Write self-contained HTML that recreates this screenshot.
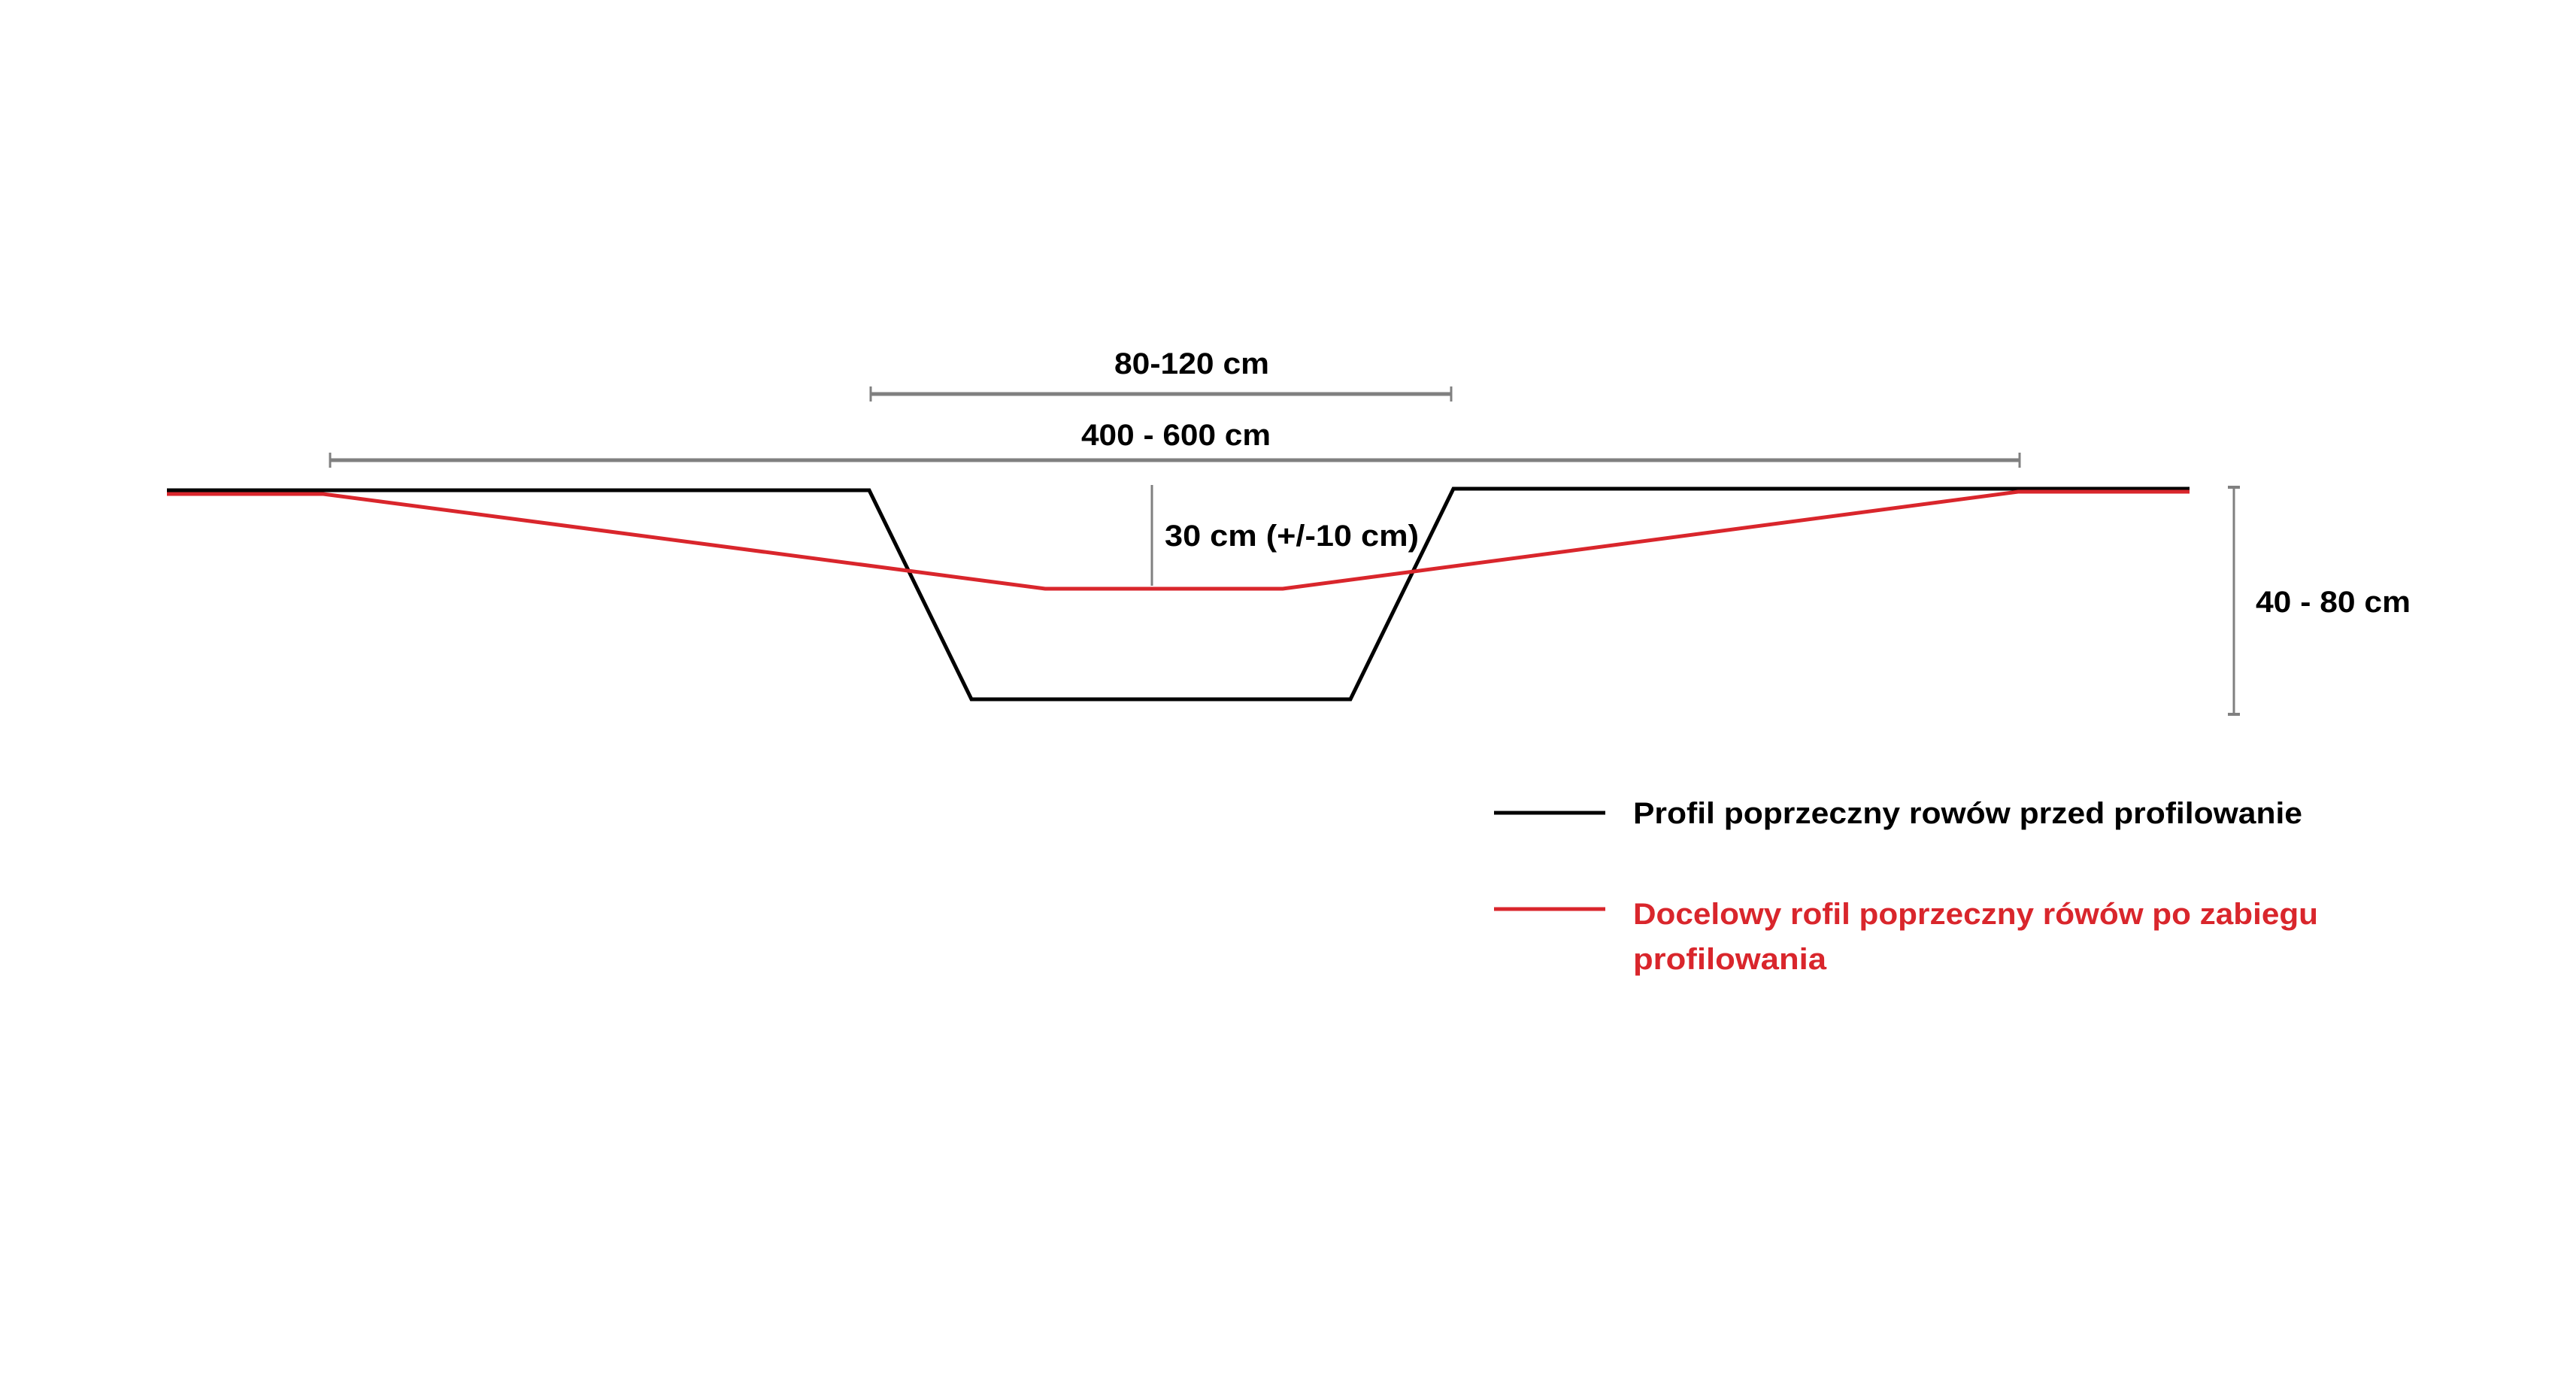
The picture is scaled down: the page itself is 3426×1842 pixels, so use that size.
<!DOCTYPE html>
<html><head><meta charset="utf-8"><style>html,body{margin:0;padding:0;background:#fff}svg{display:block}</style></head>
<body>
<svg width="3426" height="1842" viewBox="0 0 3426 1842" xmlns="http://www.w3.org/2000/svg" font-family="Liberation Sans, sans-serif" font-weight="bold">
<rect width="3426" height="1842" fill="#fff"/>
<!-- dimension lines -->
<g stroke="#808080" stroke-width="5" fill="none">
<line x1="1158" y1="524" x2="1930" y2="524"/>
<line x1="1158" y1="514" x2="1158" y2="534" stroke-width="3"/>
<line x1="1930" y1="514" x2="1930" y2="534" stroke-width="3"/>
<line x1="439" y1="612" x2="2686" y2="612"/>
<line x1="439" y1="602" x2="439" y2="622" stroke-width="3"/>
<line x1="2686" y1="602" x2="2686" y2="622" stroke-width="3"/>
<line x1="1532" y1="645" x2="1532" y2="779" stroke-width="3"/>
<line x1="2971" y1="648" x2="2971" y2="950" stroke-width="3"/>
<line x1="2963" y1="648" x2="2979" y2="648" stroke-width="4"/>
<line x1="2963" y1="950" x2="2979" y2="950" stroke-width="4"/>
</g>
<!-- black profile -->
<polyline points="222,652 1156,652 1292,930 1796,930 1933,650 2912,650" fill="none" stroke="#000" stroke-width="5"/>
<!-- red profile -->
<polyline points="222,657 430,657 1390,783 1706,783 2684,654 2912,654" fill="none" stroke="#d9262c" stroke-width="5"/>
<!-- labels -->
<g font-size="40" fill="#000">
<text x="1585" y="497" text-anchor="middle" textLength="206" lengthAdjust="spacingAndGlyphs">80-120 cm</text>
<text x="1564" y="592" text-anchor="middle" textLength="252" lengthAdjust="spacingAndGlyphs">400 - 600 cm</text>
<text x="1549" y="726" textLength="338" lengthAdjust="spacingAndGlyphs">30 cm (+/-10 cm)</text>
<text x="3000" y="814" textLength="206" lengthAdjust="spacingAndGlyphs">40 - 80 cm</text>
<text x="2172" y="1095" textLength="890" lengthAdjust="spacingAndGlyphs">Profil poprzeczny rowów przed profilowanie</text>
</g>
<line x1="1987" y1="1081" x2="2135" y2="1081" stroke="#000" stroke-width="5"/>
<line x1="1987" y1="1209" x2="2135" y2="1209" stroke="#d9262c" stroke-width="5"/>
<g font-size="40" fill="#d9262c">
<text x="2172" y="1229" textLength="911" lengthAdjust="spacingAndGlyphs">Docelowy rofil poprzeczny rówów po zabiegu</text>
<text x="2172" y="1289" textLength="257" lengthAdjust="spacingAndGlyphs">profilowania</text>
</g>
</svg>
</body></html>
